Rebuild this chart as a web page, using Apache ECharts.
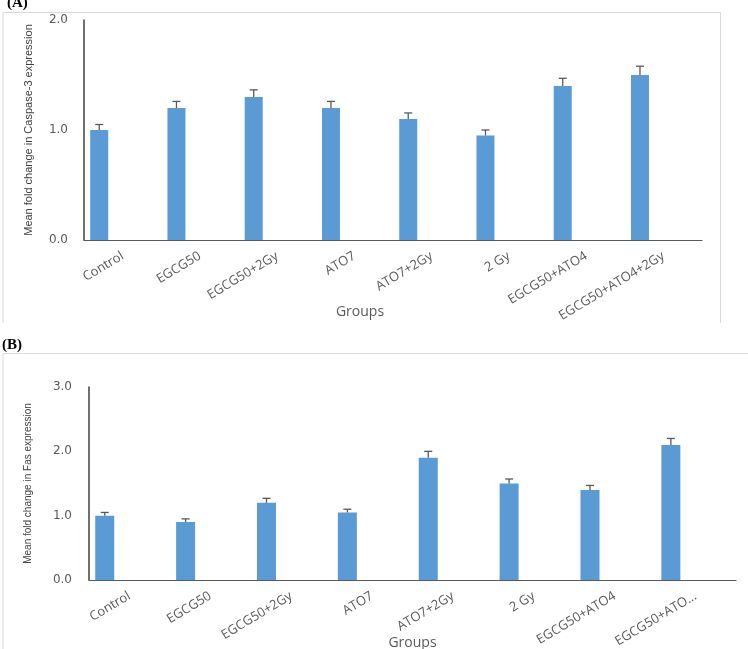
<!DOCTYPE html>
<html><head><meta charset="utf-8">
<script src="https://cdn.jsdelivr.net/npm/echarts@6/dist/echarts.min.js"></script>
<style>html,body{margin:0;padding:0;background:#fff}#c{width:748px;height:649px}</style>
</head><body><div id="c"></div>
<script>
// ---- data ----
const groups = ["Control","EGCG50","EGCG50+2Gy","ATO7","ATO7+2Gy","2 Gy","EGCG50+ATO4","EGCG50+ATO4+2Gy"];
const groupLabelsB = ["Control","EGCG50","EGCG50+2Gy","ATO7","ATO7+2Gy","2 Gy","EGCG50+ATO4","EGCG50+ATO..."];
const caspase3 = [1.0, 1.2, 1.3, 1.2, 1.1, 0.95, 1.4, 1.5];
const caspase3Err = [0.05, 0.06, 0.065, 0.06, 0.055, 0.05, 0.07, 0.08];
const fas = [1.0, 0.9, 1.2, 1.05, 1.9, 1.5, 1.4, 2.1];
const fasErr = [0.05, 0.05, 0.07, 0.05, 0.1, 0.07, 0.07, 0.1];
const yTicksA = [0, 1, 2];
const yTicksB = [0, 1, 2, 3];

const BAR = '#5B9BD5', TXT = '#595959';
const chart = echarts.init(document.getElementById('c'), null, {renderer:'canvas'});

function errSeries(idx, vals, errs, bw) {
  return {
    type: 'custom', xAxisIndex: idx, yAxisIndex: idx, z: 5, silent: true,
    data: vals.map((v, i) => [i, v, errs[i]]),
    encode: {x: 0, y: 1},
    renderItem: function (params, api) {
      const i = api.value(0), v = api.value(1), e = api.value(2);
      const off = -1.3 * bw; // first of three bar slots (barGap 30%)
      const base = api.coord([i, v]);
      const top = api.coord([i, v + e]);
      const x = base[0] + off;
      const st = {stroke: '#595959', lineWidth: 1.3};
      return {type: 'group', children: [
        {type: 'line', shape: {x1: x, y1: base[1], x2: x, y2: top[1]}, style: st},
        {type: 'line', shape: {x1: x - 4, y1: top[1], x2: x + 4, y2: top[1]}, style: st}
      ]};
    }
  };
}
function barSet(idx, vals, bw) {
  const empty = vals.map(() => '-');
  return [
    {type: 'bar', xAxisIndex: idx, yAxisIndex: idx, data: vals, barWidth: bw, barGap: '30%',
     itemStyle: {color: BAR}, silent: true},
    {type: 'bar', xAxisIndex: idx, yAxisIndex: idx, data: empty, barWidth: bw, barGap: '30%'},
    {type: 'bar', xAxisIndex: idx, yAxisIndex: idx, data: empty, barWidth: bw, barGap: '30%'}
  ];
}
const xLabel = {color: TXT, fontFamily: 'Open Sans', fontSize: 13, rotate: 31, margin: 15, interval: 0};
const yLabel = {color: TXT, fontFamily: 'DejaVu Sans', fontSize: 12, formatter: v => v.toFixed(1)};
const yNameFont = 'Liberation Sans';

chart.setOption({
  animation: false,
  backgroundColor: '#fff',
  grid: [
    {left: 84, right: 46, top: 20, height: 220, outerBoundsMode: 'none', containLabel: false},
    {left: 89, right: 12, top: 387, height: 193, outerBoundsMode: 'none', containLabel: false}
  ],
  xAxis: [
    {gridIndex: 0, type: 'category', data: groups, axisTick: {show: false},
     axisLine: {lineStyle: {color: '#595959', width: 1.2}}, axisLabel: xLabel,
     name: 'Groups', nameLocation: 'middle', nameGap: 65, nameMoveOverlap: false,
     nameTextStyle: {color: TXT, fontFamily: 'Open Sans', fontSize: 14, padding: [0, 66, 0, 0]}},
    {gridIndex: 1, type: 'category', data: groupLabelsB, axisTick: {show: false},
     axisLine: {lineStyle: {color: '#595959', width: 1.2}}, axisLabel: xLabel,
     name: 'Groups', nameLocation: 'middle', nameGap: 56, nameMoveOverlap: false,
     nameTextStyle: {color: TXT, fontFamily: 'Open Sans', fontSize: 14}}
  ],
  yAxis: [
    {gridIndex: 0, type: 'value', min: yTicksA[0], max: yTicksA[yTicksA.length - 1], interval: 1,
     splitLine: {show: false}, axisTick: {show: false},
     axisLine: {show: true, lineStyle: {color: '#404040', width: 1.5}},
     axisLabel: Object.assign({margin: 16}, yLabel),
     name: 'Mean fold change in Caspase-3 expression', nameLocation: 'middle', nameGap: 50,
     nameMoveOverlap: false,
     nameTextStyle: {color: '#404040', fontFamily: yNameFont, fontSize: 11}},
    {gridIndex: 1, type: 'value', min: yTicksB[0], max: yTicksB[yTicksB.length - 1], interval: 1,
     splitLine: {show: false}, axisTick: {show: false},
     axisLine: {show: true, lineStyle: {color: '#404040', width: 1.5}},
     axisLabel: Object.assign({margin: 17}, yLabel),
     name: 'Mean fold change in Fas expression', nameLocation: 'middle', nameGap: 56,
     nameMoveOverlap: false,
     nameTextStyle: {color: '#404040', fontFamily: yNameFont, fontSize: 10}}
  ],
  graphic: [
    {type: 'polyline', shape: {points: [[3, 323], [3, 12.5], [720.5, 12.5], [720.5, 323]]},
     style: {stroke: '#d9d9d9', fill: null, lineWidth: 1}, silent: true},
    {type: 'polyline', shape: {points: [[3, 649], [3, 353.5], [748, 353.5]]},
     style: {stroke: '#d9d9d9', fill: null, lineWidth: 1}, silent: true},
    {type: 'text', left: 7, top: -4, style: {text: '(A)', font: 'bold 15px "Liberation Serif"', fill: '#000'}},
    {type: 'text', left: 2, top: 338, style: {text: '(B)', font: 'bold 15px "Liberation Serif"', fill: '#000'}}
  ],
  series: [
    ...barSet(0, caspase3, 18), errSeries(0, caspase3, caspase3Err, 18),
    ...barSet(1, fas, 19), errSeries(1, fas, fasErr, 19)
  ]
});
</script></body></html>
